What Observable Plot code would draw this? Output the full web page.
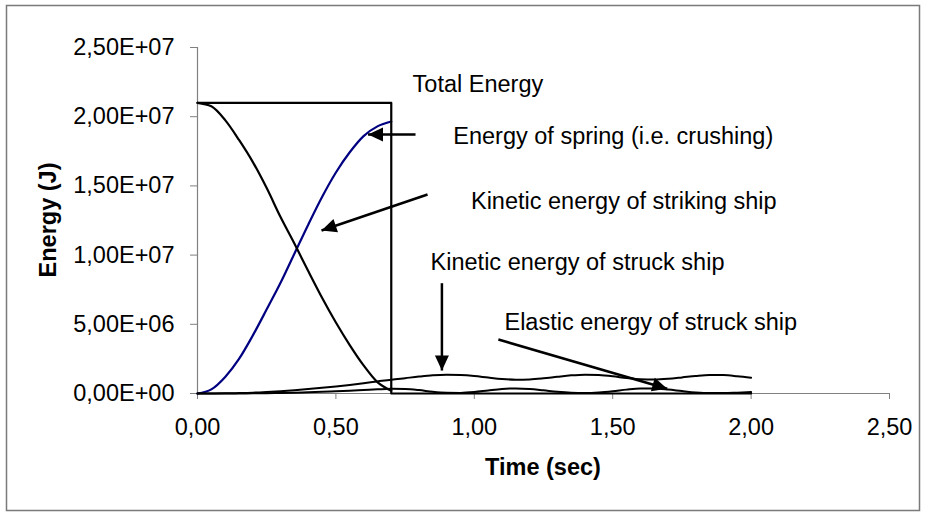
<!DOCTYPE html>
<html><head><meta charset="utf-8">
<script src="https://cdn.jsdelivr.net/npm/d3@7"></script>
<script src="https://cdn.jsdelivr.net/npm/@observablehq/plot@0.6"></script>
<style>body{margin:0;background:#fff}#chart{width:927px;height:512px}</style>
</head><body><div id="chart"></div>
<script>
// ---- data ----
const xTicks = [0, 0.5, 1.0, 1.5, 2.0, 2.5];
const yTicks = [0, 5e6, 1e7, 1.5e7, 2e7, 2.5e7];

// impact phase (0 .. 0.7 s)
const timeImpact = [0,0.05,0.1,0.15,0.2,0.25,0.3,0.35,0.4,0.45,0.5,0.55,0.6,0.65,0.7];
const strikingKE = [2.10e7,2.075e7,1.975e7,1.832e7,1.672e7,1.484e7,1.275e7,1.084e7,0.885e7,0.692e7,0.513e7,0.35e7,0.203e7,0.082e7,0.02e7];
const springE    = [0,0.03e7,0.12e7,0.25e7,0.42e7,0.608e7,0.80e7,1.01e7,1.22e7,1.42e7,1.597e7,1.743e7,1.86e7,1.93e7,1.965e7];

// total energy
const totalT = [0, 0.7, 0.7, 2.0];
const totalE = [2.1e7, 2.1e7, 0, 0];

// full run (0 .. 2.0 s)
const timeFull = [0,0.05,0.1,0.15,0.2,0.25,0.3,0.35,0.4,0.45,0.5,0.55,0.6,0.65,0.7,0.75,0.8,0.85,0.9,0.95,1.0,1.05,1.1,1.15,1.2,1.25,1.3,1.35,1.4,1.45,1.5,1.55,1.6,1.65,1.7,1.75,1.8,1.85,1.9,1.95,2.0];
const struckKE   = [0,0,0.01e6,0.03e6,0.06e6,0.11e6,0.17e6,0.24e6,0.32e6,0.41e6,0.51e6,0.62e6,0.74e6,0.87e6,1.0e6,1.11e6,1.22e6,1.31e6,1.35e6,1.33e6,1.26e6,1.15e6,1.05e6,1.0e6,1.02e6,1.1e6,1.21e6,1.31e6,1.36e6,1.33e6,1.24e6,1.12e6,1.03e6,1.01e6,1.06e6,1.16e6,1.27e6,1.34e6,1.33e6,1.25e6,1.14e6];
const elasticE   = [0,0,0,0.005e6,0.01e6,0.02e6,0.04e6,0.06e6,0.09e6,0.12e6,0.16e6,0.2e6,0.25e6,0.3e6,0.34e6,0.33e6,0.25e6,0.12e6,0.05e6,0.04e6,0.1e6,0.22e6,0.33e6,0.37e6,0.33e6,0.23e6,0.12e6,0.05e6,0.03e6,0.07e6,0.16e6,0.28e6,0.36e6,0.36e6,0.29e6,0.18e6,0.08e6,0.03e6,0.03e6,0.06e6,0.1e6];

// annotations (data units: left edge / baseline)
const labelText = ["Total Energy","Energy of spring (i.e. crushing)","Kinetic energy of striking ship","Kinetic energy of struck ship","Elastic energy of struck ship"];
const labelT = [0.777, 0.924, 0.988, 0.842, 1.109];
const labelE = [2.177e7, 1.80e7, 1.333e7, 0.889e7, 0.458e7];

// arrows (from -> to, data units)
const arrowT1 = [0.7876, 0.831, 0.883, 1.087];
const arrowE1 = [1.871e7, 1.438e7, 0.797e7, 0.39e7];
const arrowT2 = [0.616, 0.448, 0.883, 1.697];
const arrowE2 = [1.871e7, 1.178e7, 0.166e7, 0.034e7];

// ---- tables ----
const striking = timeImpact.map((t,i)=>({t, e: strikingKE[i]}));
const spring = timeImpact.map((t,i)=>({t, e: springE[i]}));
const total = totalT.map((t,i)=>({t, e: totalE[i]}));
const struck = timeFull.map((t,i)=>({t, e: struckKE[i]}));
const elastic = timeFull.map((t,i)=>({t, e: elasticE[i]}));
const labels = labelText.map((s,i)=>({s, t: labelT[i], e: labelE[i]}));
const arrows = arrowT1.map((t,i)=>({t1: t, e1: arrowE1[i], t2: arrowT2[i], e2: arrowE2[i]}));

const fmtY = d => {
  if (d === 0) return "0,00E+00";
  const ex = Math.floor(Math.log10(d) + 1e-9);
  const m = d / Math.pow(10, ex);
  return m.toFixed(2).replace(".", ",") + "E+" + String(ex).padStart(2, "0");
};
const fmtX = d => d.toFixed(2).replace(".", ",");

const chart = Plot.plot({
  width: 927, height: 512,
  marginLeft: 197, marginRight: 38, marginTop: 47, marginBottom: 119,
  x: {domain: [0, 2.5]},
  y: {domain: [0, 2.5e7]},
  style: {fontFamily: "'Liberation Sans', Arial, sans-serif", fontSize: "23.5px", color: "black", background: "white", overflow: "visible"},
  marks: [
    Plot.axisY(yTicks, {tickFormat: fmtY, tickSize: 7, tickPadding: 16, stroke: "#808080", fill: "black", label: null}),
    Plot.axisX(xTicks, {tickFormat: fmtX, tickSize: 6, tickPadding: 19, stroke: "#808080", fill: "black", label: null}),
    Plot.ruleX([0], {stroke: "#808080", strokeWidth: 1.2}),
    Plot.ruleY([0], {stroke: "#808080", strokeWidth: 1.2}),
    Plot.line(spring, {x: "t", y: "e", stroke: "#000080", strokeWidth: 2.2, curve: "monotone-x"}),
    Plot.line(elastic, {x: "t", y: "e", stroke: "black", strokeWidth: 2, curve: "monotone-x"}),
    Plot.line(struck, {x: "t", y: "e", stroke: "black", strokeWidth: 2, curve: "monotone-x"}),
    Plot.line(striking, {x: "t", y: "e", stroke: "black", strokeWidth: 2.2, curve: "monotone-x"}),
    Plot.line(total, {x: "t", y: "e", stroke: "black", strokeWidth: 2.2}),
    Plot.link(arrows, {x1: "t1", y1: "e1", x2: "t2", y2: "e2", stroke: "black", strokeWidth: 2.5, markerEnd: "arrow"}),
    Plot.text(labels, {x: "t", y: "e", text: "s", textAnchor: "start", lineAnchor: "bottom", fill: "black"})
  ]
});
document.getElementById("chart").appendChild(chart);

// filled triangular arrowheads
chart.querySelectorAll("marker").forEach(m => {
  m.setAttribute("markerUnits", "userSpaceOnUse");
  m.setAttribute("viewBox", "-17 -8 18 16");
  m.setAttribute("markerWidth", "18");
  m.setAttribute("markerHeight", "16");
  m.setAttribute("fill", "black");
  m.setAttribute("stroke", "none");
  const p = m.querySelector("path");
  if (p) p.setAttribute("d", "M-15,-7L0,0L-15,7Z");
});

const svg = d3.select(chart);
svg.append("rect").attr("x", 6.5).attr("y", 5.5).attr("width", 913).attr("height", 505)
  .attr("fill", "none").attr("stroke", "#7a7a7a").attr("stroke-width", 1.5);
svg.append("text").attr("transform", "translate(56,220) rotate(-90)").attr("text-anchor", "middle")
  .attr("font-weight", "bold").attr("fill", "black").text("Energy (J)");
svg.append("text").attr("x", 543).attr("y", 475).attr("text-anchor", "middle")
  .attr("font-weight", "bold").attr("fill", "black").text("Time (sec)");
</script>
</body></html>
